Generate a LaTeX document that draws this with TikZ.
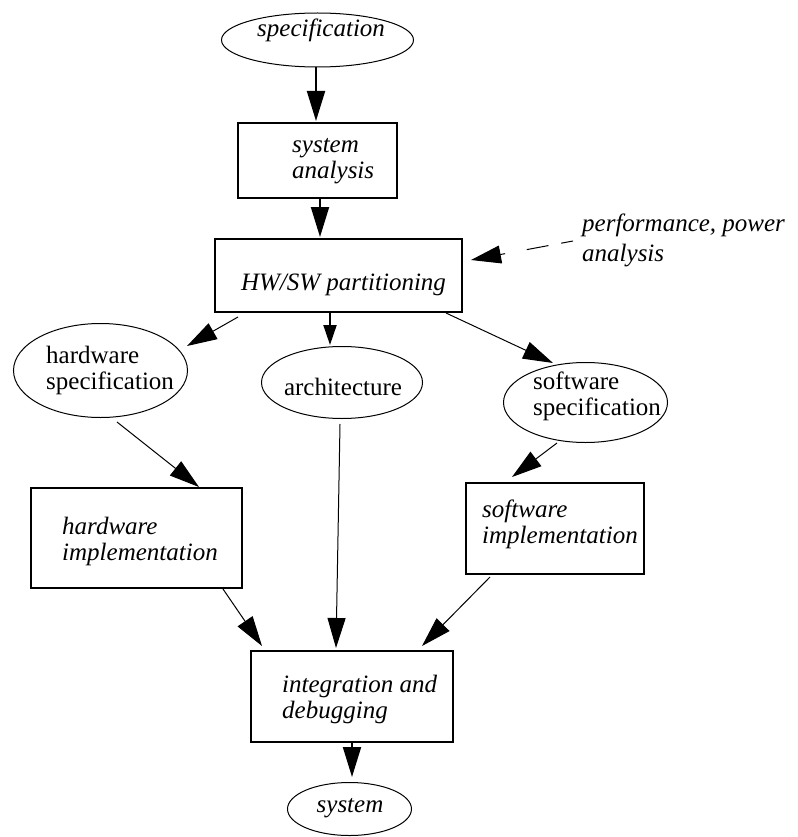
\documentclass[tikz,border=0pt]{standalone}
\usepackage{fontspec}
\setmainfont{Liberation Serif}
\usetikzlibrary{shapes.geometric,arrows.meta,calc}
\begin{document}
\begin{tikzpicture}[x=1pt,y=-1pt,
  box/.style={draw,line width=2pt,rectangle,inner sep=0pt},
  oval/.style={draw,line width=1pt,ellipse,inner sep=0pt},
  txt/.style={inner sep=0pt,align=left,font=\fontsize{25}{26}\selectfont},
  itxt/.style={txt,font=\fontsize{25}{26}\selectfont\itshape},
  arr/.style={line width=1pt,-{Triangle[length=30pt,width=18pt]}},
  thickarr/.style={arr,line width=2pt},
  shortarr/.style={line width=2pt,-{Triangle[length=20pt,width=13pt]}},
  dasharr/.style={arr,dash pattern=on 12pt off 13pt on 22pt off 22pt on 80pt off 0pt}
]
\useasboundingbox (0,0) rectangle (797,837);

% shapes
\node[oval,minimum width=192pt,minimum height=54pt] (spec) at (317.5,40) {};
\node[box,minimum width=159pt,minimum height=75pt] (sysana) at (317.5,160.5) {};
\node[box,minimum width=247pt,minimum height=73pt] (hwsw) at (338.5,275.5) {};
\node[oval,minimum width=174pt,minimum height=94pt] (hwspec) at (100.5,370.5) {};
\node[oval,minimum width=161pt,minimum height=72pt] (arch) at (342,382.5) {};
\node[oval,minimum width=164pt,minimum height=80pt] (swspec) at (585.5,402.5) {};
\node[box,minimum width=211pt,minimum height=100pt] (hwimpl) at (136.5,538) {};
\node[box,minimum width=178pt,minimum height=91pt] (swimpl) at (555,528.5) {};
\node[box,minimum width=202pt,minimum height=91pt] (integ) at (352,696.5) {};
\node[oval,minimum width=124pt,minimum height=53pt] (sys) at (349.5,809) {};

% labels
\node[itxt,anchor=west] (spec-t) at (257,30) {specification};
\node[itxt,anchor=west] (sysana-t) at (292,161) {system\\analysis};
\node[itxt] (hwsw-t) at (343.5,285) {HW/SW partitioning};
\node[itxt,anchor=west,font=\fontsize{25}{30}\selectfont\itshape] (perf) at (582,240) {performance, power\\analysis};
\node[txt,anchor=west] (hwspec-t) at (46,370.5) {hardware\\specification};
\node[txt] (arch-t) at (343,386.5) {architecture};
\node[txt,anchor=west] (swspec-t) at (533,396) {software\\specification};
\node[itxt,anchor=west] (hwimpl-t) at (62,541) {hardware\\implementation};
\node[itxt,anchor=west] (swimpl-t) at (482,524) {software\\implementation};
\node[itxt,anchor=west] (integ-t) at (282,699) {integration and\\debugging};
\node[itxt] (sys-t) at (350,808.5) {system};

% connectors
\draw[thickarr] ($(spec.south)+(-1.5,0)$) -- ($(sysana.north)+(-1.5,-1)$);
\draw[thickarr] ($(sysana.south)+(2.5,0)$) -- ($(hwsw.north)+(-18.5,-1)$);
\draw[dasharr] ($(perf.west)+(-9,1)$) -- ($(hwsw.east)+(8,-15.5)$);
\draw[arr] ($(hwsw.south west)+(24,4)$) -- ($(hwspec.center)+(86.5,-24.5)$);
\draw[shortarr] ($(hwsw.south)+(-8.5,0)$) -- ($(arch.north)+(-12,-1)$);
\draw[arr] ($(hwsw.south east)+(-17,0)$) -- ($(swspec.north)+(-32.5,1)$);
\draw[arr] ($(hwspec.south)+(16.5,4)$) -- ($(hwimpl.north)+(62.5,0)$);
\draw[arr] ($(swspec.south)+(-28.5,0)$) -- ($(swimpl.north)+(-43,-5)$);
\draw[arr] ($(arch.south)+(-2,5)$) -- ($(integ.north)+(-16,-2)$);
\draw[arr] ($(hwimpl.south east)+(-20,0)$) -- ($(integ.north west)+(12,-4)$);
\draw[arr] ($(swimpl.south west)+(25,2)$) -- ($(integ.north east)+(-32,-4)$);
\draw[thickarr] (integ.south) -- ($(sys.north)+(2.5,-5)$);
\end{tikzpicture}
\end{document}
